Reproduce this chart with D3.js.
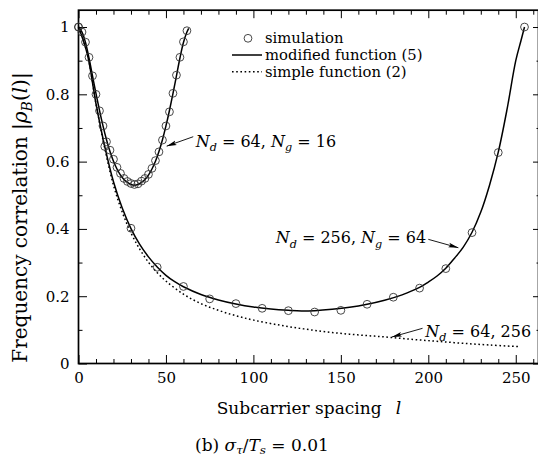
<!DOCTYPE html>
<html>
<head>
<meta charset="utf-8">
<script src="https://cdn.jsdelivr.net/npm/d3@7"></script>
<style>
  body { margin: 0; background: #fff; }
  svg { display: block; }
  text { font-family: "DejaVu Serif", serif; fill: #000; }
</style>
</head>
<body>
<svg id="chart" width="538" height="458"></svg>
<script>
// ---- data ----
// N_d = 64, N_g = 16 : modified function (5)
const smallCurveL = [0, 2, 4, 6, 8, 10, 12, 14, 16, 18, 20, 22, 24, 26, 28, 30, 32,
  34, 36, 38, 40, 42, 44, 46, 48, 50, 52, 54, 56, 58, 60, 62, 63];
const smallCurveV = [1.000, 0.985, 0.954, 0.908, 0.855, 0.802, 0.752, 0.706, 0.665, 0.630, 0.601, 0.578, 0.560, 0.547, 0.538, 0.532, 0.530,
  0.532, 0.538, 0.547, 0.560, 0.578, 0.601, 0.630, 0.665, 0.706, 0.752, 0.802, 0.855, 0.908, 0.954, 0.985, 0.996];

// N_d = 64, N_g = 16 : simulation
const simSmallL = [0, 2, 4, 6, 8, 10, 12, 14, 16, 18, 20, 22, 24, 26, 28, 30,
  32, 34, 36, 38, 40, 42, 44, 46, 48, 50, 52, 54, 56, 58, 60, 62];
const simSmallV = [1.000, 0.985, 0.955, 0.910, 0.855, 0.800, 0.751, 0.706, 0.659, 0.634, 0.607, 0.583, 0.565, 0.550, 0.541, 0.535,
  0.532, 0.534, 0.542, 0.550, 0.562, 0.580, 0.603, 0.629, 0.664, 0.706, 0.748, 0.803, 0.857, 0.910, 0.956, 0.989];

// N_d = 256, N_g = 64 : modified function (5)
const bigCurveL = [0, 5, 10, 15, 20, 25, 30, 35, 40, 45, 50, 55, 60, 70, 80, 90, 100, 110, 120, 127.5,
  135, 145, 155, 165, 175, 185, 195, 200, 205, 210, 215, 220, 225, 230, 235, 240, 245, 250, 253, 255];
const bigCurveV = [1.000, 0.920, 0.772, 0.645, 0.540, 0.462, 0.401, 0.354, 0.317, 0.287, 0.262, 0.243, 0.228, 0.205, 0.189, 0.177, 0.168, 0.162, 0.158, 0.156,
  0.157, 0.161, 0.167, 0.176, 0.188, 0.204, 0.226, 0.242, 0.260, 0.283, 0.313, 0.346, 0.390, 0.450, 0.530, 0.628, 0.755, 0.900, 0.960, 1.000];

// N_d = 256, N_g = 64 : simulation
const simBigL = [0, 15, 30, 45, 60, 75, 90, 105, 120, 135, 150, 165, 180, 195, 210, 225, 240, 255];
const simBigV = [1.000, 0.645, 0.402, 0.286, 0.229, 0.192, 0.178, 0.164, 0.157, 0.153, 0.158, 0.176, 0.197, 0.224, 0.282, 0.389, 0.627, 1.000];

// N_d = 64, 256 : simple function (2)
const simpleL = [0, 5, 10, 15, 20, 25, 30, 35, 40, 45, 50, 60, 70, 80, 90, 100, 115, 130, 145, 160, 175, 190, 205, 220, 235, 252];
const simpleV = [1.000, 0.922, 0.772, 0.640, 0.530, 0.450, 0.388, 0.340, 0.301, 0.270, 0.245, 0.206, 0.178, 0.158, 0.142, 0.129, 0.114, 0.102, 0.092, 0.085, 0.079, 0.072, 0.066, 0.060, 0.055, 0.050];

// axis ticks
const xMajor = [0, 50, 100, 150, 200, 250];
const xMinor = [10, 20, 30, 40, 60, 70, 80, 90, 110, 120, 130, 140, 160, 170, 180, 190, 210, 220, 230, 240, 260];
const yMajor = [0, 0.2, 0.4, 0.6, 0.8, 1];
const yMinor = [0.1, 0.3, 0.5, 0.7, 0.9];
const yTickLabels = ["0", "0.2", "0.4", "0.6", "0.8", "1"];

// legend entries
const legendLabels = ["simulation", "modified function (5)", "simple function (2)"];

// ---- drawing ----
const svg = d3.select("#chart");
const x = d3.scaleLinear().domain([0, 263]).range([78.5, 538.5]);
const y = d3.scaleLinear().domain([0, 1.05]).range([363.5, 10.2]);

const zip = (ls, vs) => ls.map((l, i) => [l, vs[i]]);
const line = d3.line().x(d => x(d[0])).y(d => y(d[1])).curve(d3.curveCatmullRom.alpha(0.5));

// axes with inward ticks
function styleAxis(g) {
  g.select(".domain").remove();
  g.selectAll(".tick line").attr("stroke", "#000").attr("stroke-width", 1);
  g.selectAll(".tick text").style("font-family", '"DejaVu Serif", serif').style("font-size", "15px").attr("fill", "#000");
}
const xTop = y.range()[1], xBot = y.range()[0];
const yL = x.range()[0], yR = x.range()[1];

svg.append("g").attr("transform", `translate(0,${xBot})`)
  .call(d3.axisBottom(x).tickValues(xMajor).tickSizeInner(-8.5).tickSizeOuter(0).tickPadding(9).tickFormat(d3.format("d")))
  .call(styleAxis);
svg.append("g").attr("transform", `translate(0,${xBot})`)
  .call(d3.axisBottom(x).tickValues(xMinor).tickSizeInner(-4.5).tickSizeOuter(0).tickFormat(""))
  .call(styleAxis);
svg.append("g").attr("transform", `translate(0,${xTop})`)
  .call(d3.axisTop(x).tickValues(xMajor).tickSizeInner(-8).tickSizeOuter(0).tickFormat(""))
  .call(styleAxis);
svg.append("g").attr("transform", `translate(0,${xTop})`)
  .call(d3.axisTop(x).tickValues(xMinor).tickSizeInner(-4.5).tickSizeOuter(0).tickFormat(""))
  .call(styleAxis);
svg.append("g").attr("transform", `translate(${yL},0)`)
  .call(d3.axisLeft(y).tickValues(yMajor).tickSizeInner(-8.5).tickSizeOuter(0).tickPadding(9)
    .tickFormat((d, i) => yTickLabels[i]))
  .call(styleAxis);
svg.append("g").attr("transform", `translate(${yL},0)`)
  .call(d3.axisLeft(y).tickValues(yMinor).tickSizeInner(-4).tickSizeOuter(0).tickFormat(""))
  .call(styleAxis);
svg.append("g").attr("transform", `translate(${yR},0)`)
  .call(d3.axisRight(y).tickValues(yMajor).tickSizeInner(-5.5).tickSizeOuter(0).tickFormat(""))
  .call(styleAxis);
svg.append("g").attr("transform", `translate(${yR},0)`)
  .call(d3.axisRight(y).tickValues(yMinor).tickSizeInner(-2).tickSizeOuter(0).tickFormat(""))
  .call(styleAxis);

// frame
svg.append("rect")
  .attr("x", yL).attr("y", xTop).attr("width", yR - yL).attr("height", xBot - xTop)
  .attr("fill", "none").attr("stroke", "#000").attr("stroke-width", 1.7);

// curves
svg.append("path").datum(zip(simpleL, simpleV)).attr("d", line)
  .attr("fill", "none").attr("stroke", "#000").attr("stroke-width", 1.5).attr("stroke-dasharray", "1.6,2.6");
svg.append("path").datum(zip(bigCurveL, bigCurveV)).attr("d", line)
  .attr("fill", "none").attr("stroke", "#000").attr("stroke-width", 1.5);
svg.append("path").datum(zip(smallCurveL, smallCurveV)).attr("d", line)
  .attr("fill", "none").attr("stroke", "#000").attr("stroke-width", 1.5);

// simulation markers
const markers = zip(simSmallL, simSmallV).concat(zip(simBigL, simBigV));
svg.append("g").selectAll("circle").data(markers).join("circle")
  .attr("cx", d => x(d[0])).attr("cy", d => y(d[1])).attr("r", 3.9)
  .attr("fill", "none").attr("stroke", "#333").attr("stroke-width", 0.9);

// rich text helper: parts are {t, it, sub}
function rich(sel, parts, size, shift = 0.28) {
  let shifted = false;
  parts.forEach(p => {
    const ts = sel.append("tspan").text(p.t);
    if (p.it) ts.style("font-style", "italic");
    if (p.sub) {
      ts.style("font-size", (size * 0.7) + "px");
      if (!shifted) ts.attr("dy", size * shift);
      shifted = true;
    } else if (shifted) {
      ts.attr("dy", -size * shift);
      shifted = false;
    }
  });
  return sel;
}

// legend
const lg = svg.append("g");
const legRows = [38.3, 55, 71.7];
lg.append("circle").attr("cx", 248).attr("cy", legRows[0]).attr("r", 3.9)
  .attr("fill", "none").attr("stroke", "#333").attr("stroke-width", 0.9);
lg.append("line").attr("x1", 232).attr("x2", 262).attr("y1", legRows[1]).attr("y2", legRows[1])
  .attr("stroke", "#000").attr("stroke-width", 1.5);
lg.append("line").attr("x1", 232).attr("x2", 262).attr("y1", legRows[2]).attr("y2", legRows[2])
  .attr("stroke", "#000").attr("stroke-width", 1.5).attr("stroke-dasharray", "1.6,2.6");
lg.selectAll("text").data(legendLabels).join("text")
  .attr("x", 265).attr("y", (d, i) => legRows[i] + 5)
  .style("font-size", "14.8px").text(d => d);

// annotations with arrows (data coordinates)
const defs = svg.append("defs");
defs.append("marker").attr("id", "arr").attr("viewBox", "0 0 10 6")
  .attr("refX", 10).attr("refY", 3).attr("markerWidth", 10).attr("markerHeight", 6)
  .attr("markerUnits", "userSpaceOnUse").attr("orient", "auto")
  .append("path").attr("d", "M0,0.6 L10,3 L0,5.4 L2,3 Z").attr("fill", "#000");

const arrows = [
  { from: [65.6, 0.674], to: [50.4, 0.646] },
  { from: [200.0, 0.369], to: [217.2, 0.344] },
  { from: [196.7, 0.1046], to: [179.2, 0.0788] }
];
svg.append("g").selectAll("line").data(arrows).join("line")
  .attr("x1", d => x(d.from[0])).attr("y1", d => y(d.from[1]))
  .attr("x2", d => x(d.to[0])).attr("y2", d => y(d.to[1]))
  .attr("stroke", "#000").attr("stroke-width", 0.9).attr("marker-end", "url(#arr)");

const annSize = 16;
rich(svg.append("text").attr("x", x(67.0)).attr("y", y(0.644)).style("font-size", annSize + "px"),
  [{ t: "N", it: 1 }, { t: "d", it: 1, sub: 1 }, { t: " = 64, " }, { t: "N", it: 1 }, { t: "g", it: 1, sub: 1 }, { t: " = 16" }], annSize);
rich(svg.append("text").attr("x", x(198.8)).attr("y", y(0.357)).attr("text-anchor", "end").style("font-size", annSize + "px"),
  [{ t: "N", it: 1 }, { t: "d", it: 1, sub: 1 }, { t: " = 256, " }, { t: "N", it: 1 }, { t: "g", it: 1, sub: 1 }, { t: " = 64" }], annSize);
rich(svg.append("text").attr("x", x(198.3)).attr("y", y(0.0796)).style("font-size", annSize + "px"),
  [{ t: "N", it: 1 }, { t: "d", it: 1, sub: 1 }, { t: " = 64, 256" }], annSize);

// axis titles
const xt = svg.append("text").attr("x", 216.7).attr("y", 414).style("font-size", "17px");
xt.append("tspan").text("Subcarrier spacing");
xt.append("tspan").attr("dx", 14).style("font-style", "italic").text("l");

const yt = svg.append("text").attr("transform", "translate(26.5,362.7) rotate(-90)").style("font-size", "20px");
rich(yt, [{ t: "Frequency correlation |" }, { t: "ρ", it: 1 }, { t: "B", it: 1, sub: 1 }, { t: "(" }, { t: "l", it: 1 }, { t: ")|" }], 20);

// caption
const cap = svg.append("text").attr("x", 195).attr("y", 451).style("font-size", "17px");
rich(cap, [{ t: "(b) " }, { t: "σ", it: 1 }, { t: "τ", it: 1, sub: 1 }, { t: "/" }, { t: "T", it: 1 }, { t: "s", it: 1, sub: 1 }, { t: " = 0.01" }], 17, 0.18);
</script>
</body>
</html>
